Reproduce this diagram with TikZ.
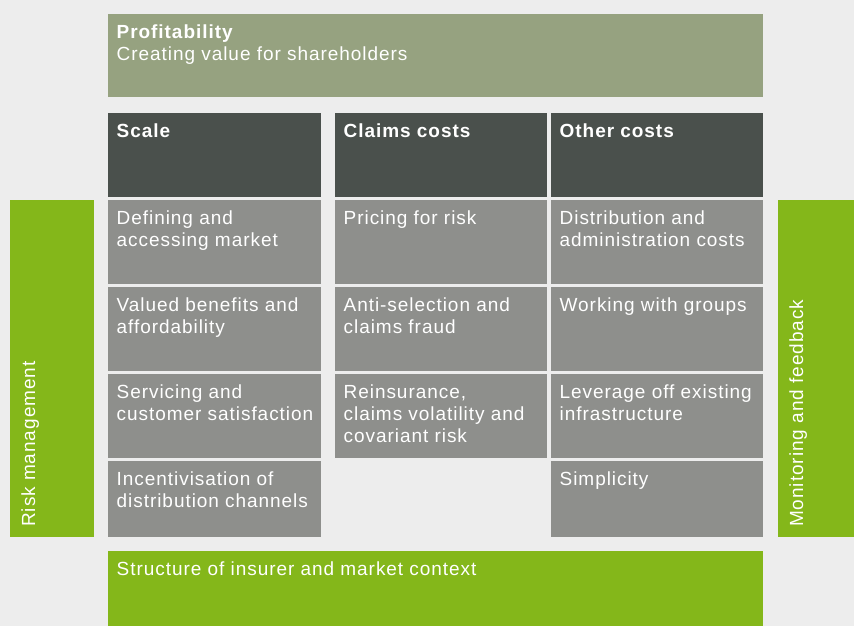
\documentclass[tikz,border=0pt]{standalone}
\usepackage{fontspec}
\setmainfont{Liberation Sans}[LetterSpace=5]
\definecolor{bgc}{HTML}{EDEDED}
\definecolor{sage}{HTML}{96A280}
\definecolor{darkhead}{HTML}{4A504C}
\definecolor{cellgrey}{HTML}{8E8F8C}
\definecolor{leaf}{HTML}{84B71A}
\tikzset{
  celltext/.style={anchor=base west, inner sep=0pt, text=white, font=\fontsize{19}{22}\selectfont},
  sidetext/.style={anchor=base west, inner sep=0pt, text=white, rotate=90, font=\fontsize{19}{22}\selectfont},
}
\newcommand\mkcell[7]{%
  \fill[#6] (#2,#3) rectangle (#4,#5);
  \node[celltext] (#1) at (#2+8.5,#3+24.5) {\parbox[t]{640pt}{\raggedright\fontsize{19}{22}\selectfont #7}};
}
\begin{document}
\begin{tikzpicture}[x=1pt,y=-1pt]
\fill[bgc] (0,0) rectangle (854,626);
\useasboundingbox (0,0) rectangle (854,626);
% top
\mkcell{profit}{108}{14}{763}{97}{sage}{\textbf{Profitability}\\Creating value for shareholders}
% headers
\mkcell{scale}{108}{113}{321}{197}{darkhead}{\textbf{Scale}}
\mkcell{claims}{335}{113}{547}{197}{darkhead}{\textbf{Claims costs}}
\mkcell{other}{551}{113}{763}{197}{darkhead}{\textbf{Other costs}}
% scale column
\mkcell{s1}{108}{200}{321}{284}{cellgrey}{Defining and\\accessing market}
\mkcell{s2}{108}{287}{321}{371}{cellgrey}{Valued benefits and\\affordability}
\mkcell{s3}{108}{374}{321}{458}{cellgrey}{Servicing and\\customer satisfaction}
\mkcell{s4}{108}{461}{321}{537}{cellgrey}{Incentivisation of\\distribution channels}
% claims column
\mkcell{c1}{335}{200}{547}{284}{cellgrey}{Pricing for risk}
\mkcell{c2}{335}{287}{547}{371}{cellgrey}{Anti-selection and\\claims fraud}
\mkcell{c3}{335}{374}{547}{458}{cellgrey}{Reinsurance,\\claims volatility and\\covariant risk}
% other column
\mkcell{o1}{551}{200}{763}{284}{cellgrey}{Distribution and\\administration costs}
\mkcell{o2}{551}{287}{763}{371}{cellgrey}{Working with groups}
\mkcell{o3}{551}{374}{763}{458}{cellgrey}{Leverage off existing\\infrastructure}
\mkcell{o4}{551}{461}{763}{537}{cellgrey}{Simplicity}
% bottom
\mkcell{struct}{108}{551}{763}{626}{leaf}{Structure of insurer and market context}
% side bars
\fill[leaf] (10,200) rectangle (94,537);
\node[sidetext] (risk) at (35,527) {Risk management};
\fill[leaf] (778,200) rectangle (854,537);
\node[sidetext] (monitor) at (803,527) {Monitoring and feedback};
\end{tikzpicture}
\end{document}
